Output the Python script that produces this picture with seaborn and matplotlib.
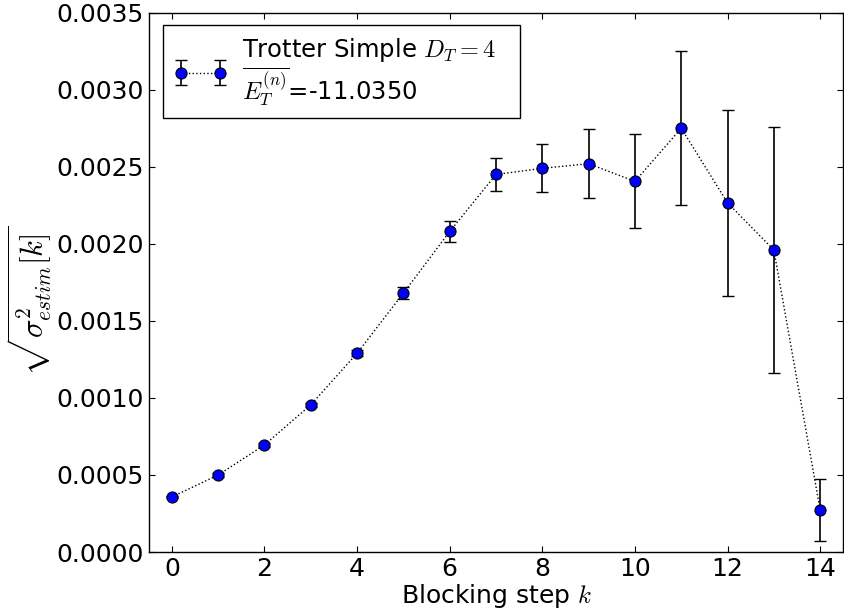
import numpy as np
import pandas as pd
import matplotlib
matplotlib.use("Agg")
import matplotlib.pyplot as plt
import seaborn as sns
from matplotlib.container import ErrorbarContainer
from matplotlib.ticker import FormatStrFormatter

# ---- data ----
blocking_step = [0, 1, 2, 3, 4, 5, 6, 7, 8, 9, 10, 11, 12, 13, 14]
sigma_estim = [0.000357, 0.000500, 0.000695, 0.000955, 0.00129, 0.00168, 0.00208,
               0.00245, 0.00249, 0.00252, 0.002405, 0.00275, 0.002266, 0.00196, 0.000273]
sigma_err = [0.000008, 0.000010, 0.000012, 0.000015, 0.000020, 0.000039, 0.000065,
             0.000108, 0.000156, 0.000224, 0.000305, 0.000500, 0.000604, 0.000800, 0.000200]
x_ticks = [0, 2, 4, 6, 8, 10, 12, 14]
y_ticks = [0.0, 0.0005, 0.0010, 0.0015, 0.0020, 0.0025, 0.0030, 0.0035]
legend_label = "Trotter Simple $D_T=4$\n$\\overline{E_T^{(n)}}$=-11.0350"

df = pd.DataFrame({"k": blocking_step, "sigma": sigma_estim, "err": sigma_err})

sns.set_style("ticks")
plt.rcParams["font.family"] = ["DejaVu Sans"]
plt.rcParams["mathtext.fontset"] = "cm"
plt.rcParams["xtick.direction"] = "in"
plt.rcParams["ytick.direction"] = "in"
plt.rcParams["xtick.top"] = True
plt.rcParams["ytick.right"] = True
plt.rcParams["axes.edgecolor"] = "black"
plt.rcParams["axes.linewidth"] = 1.0
plt.rcParams["text.color"] = "black"
plt.rcParams["axes.labelcolor"] = "black"

fig = plt.figure(figsize=(8.45, 6.15), dpi=100)
ax = fig.add_axes([0.176, 0.1024, 0.822, 0.877])

err = ax.errorbar(df["k"], df["sigma"], yerr=df["err"], fmt="none",
                  ecolor="black", elinewidth=1.2, capsize=4, capthick=1.0, zorder=2)
sns.lineplot(data=df, x="k", y="sigma", ax=ax, color="black", linestyle=":",
             linewidth=1.0, marker="o", markersize=8, markerfacecolor="blue",
             markeredgecolor="black", markeredgewidth=0.8, zorder=3, legend=False)
line = ax.get_lines()[-1]

cont = ErrorbarContainer((line, err.lines[1], err.lines[2]), has_xerr=False, has_yerr=True)
leg = ax.legend([cont], [legend_label], loc="upper left", numpoints=2, fontsize=17.5,
                bbox_to_anchor=(0.0202, 0.7777, 0.514, 0.2), mode="expand",
                borderaxespad=0, frameon=True, fancybox=False, framealpha=1,
                edgecolor="black", borderpad=0.45, handlelength=2.2, handletextpad=0.6)
leg.get_frame().set_linewidth(1.0)
for t in leg.get_texts():
    t.set_linespacing(1.05)

ax.set_xlim(-0.5, 14.5)
ax.set_ylim(0, 0.0035)
ax.set_xticks(x_ticks)
ax.set_yticks(y_ticks)
ax.yaxis.set_major_formatter(FormatStrFormatter("%.4f"))
ax.tick_params(labelsize=18, length=4, width=0.8, color="black", labelcolor="black")
ax.set_xlabel("Blocking step $k$", fontsize=18, labelpad=1)
ax.set_ylabel("$\\sqrt{\\sigma^2_{estim}[k]}$", fontsize=22)
ax.yaxis.set_label_coords(-0.137, 0.465)

fig.savefig("out.png", dpi=100)
